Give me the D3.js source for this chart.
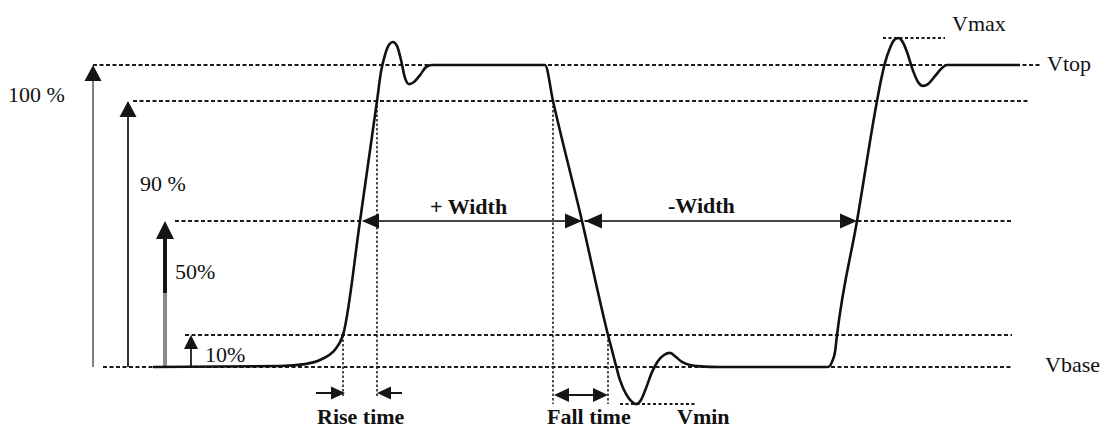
<!DOCTYPE html>
<html>
<head>
<meta charset="utf-8">
<script src="https://cdn.jsdelivr.net/npm/d3@7"></script>
<style>
  html, body { margin: 0; padding: 0; background: #fff; }
  svg { display: block; }
  text { font-family: "Liberation Serif", "Times New Roman", serif; fill: #111; }
</style>
</head>
<body>
<svg id="chart" width="1103" height="430"></svg>
<script>
// Pulse waveform samples: time (ns) and level (% of Vbase..Vtop swing)
const waveTime = [
  0.3, 13.0, 15.5, 17.2, 18.3, 18.9, 19.3, 21.0, 22.7, 23.1, 23.5, 23.9, 24.3, 24.7,
  25.1, 25.5, 25.9, 26.4, 27.0, 27.6, 28.2, 39.5, 40.3, 43.2, 45.8, 46.5, 47.0, 47.6,
  48.1, 48.6, 49.1, 49.6, 50.2, 50.8, 51.4, 52.0, 52.6, 53.2, 54.0, 55.0, 57.0, 67.8,
  68.2, 68.5, 68.7, 70.7, 72.7, 73.1, 73.5, 74.0, 74.4, 74.8, 75.2, 75.7, 76.2, 76.8,
  77.3, 77.8, 78.5, 79.1, 79.7, 87.0
];
const waveLevel = [
  0, 0.3, 0.9, 2.5, 4.7, 7.2, 10, 50, 90, 98.1, 102.8, 105.6, 106.4, 105.3,
  101.4, 96.4, 94.7, 95.3, 97.2, 99.4, 100, 100, 90, 50, 10, 1.6, -4.1, -8.4,
  -10.6, -11.6, -10.3, -6.6, -1.6, 1.9, 3.75, 4.4, 3.1, 1.6, 0.6, 0.2, 0, 0,
  1.6, 4.7, 10, 50, 90, 95.8, 100.6, 104.7, 106.9, 107.5, 106.7, 103.6, 99.2, 95.3,
  94.2, 94.7, 96.9, 98.9, 100, 100
];

// Reference levels drawn as dotted lines
const levelNames  = ["Vtop", "90%", "50%", "10%", "Vbase"];
const levelValues = [100, 90, 50, 10, 0];
const vmaxLevel = 107.5;
const vminLevel = -11.6;

// Percentage arrows on the left
const percentLabels = ["100 %", "90 %", "50%", "10%"];
const percentValues = [100, 90, 50, 10];

// Crossing times (ns)
const riseTimes  = [19.3, 22.7];   // 10 % and 90 % on the rising edge
const fallTimes  = [40.3, 45.8];   // 90 % and 10 % on the falling edge
const midTimes   = [21.0, 43.2, 70.7]; // 50 % crossings
const widthLabels = ["+ Width", "-Width"];
const timeLabels  = ["Rise time", "Fall time"];

// ---------- layout ----------
const svg = d3.select("#chart");
const x = d3.scaleLinear().domain([0, 88]).range([150, 1030]);
const y = d3.scaleLinear().domain([0, 10, 50, 90, 100]).range([367, 335, 221, 101, 65]);

const levelStart = [93, 133, 175, 185, 103];
const levelEnd   = [1040, 1028, 1012, 1012, 1012];
const arrowX     = [93, 128, 165, 191];
const ink = "#151515";

function head(g, tx, ty, dir, len, hw, color) {
  // dir: "up", "left", "right"
  let pts;
  if (dir === "up") pts = [[tx, ty], [tx - hw, ty + len], [tx + hw, ty + len]];
  else if (dir === "left") pts = [[tx, ty], [tx + len, ty - hw], [tx + len, ty + hw]];
  else pts = [[tx, ty], [tx - len, ty - hw], [tx - len, ty + hw]];
  g.append("polygon").attr("points", pts.map(p => p.join(",")).join(" "))
    .attr("fill", color || ink);
}

const g = svg.append("g");

// dotted reference levels
levelValues.forEach((v, i) => {
  g.append("line")
    .attr("x1", levelStart[i]).attr("x2", levelEnd[i])
    .attr("y1", y(v)).attr("y2", y(v))
    .attr("stroke", "#1a1a1a").attr("stroke-width", 2)
    .attr("stroke-dasharray", "4,2.5");
});
// Vmax / Vmin short lines
g.append("line").attr("x1", x(73.3)).attr("x2", x(79.5))
  .attr("y1", y(vmaxLevel)).attr("y2", y(vmaxLevel))
  .attr("stroke", "#1a1a1a").attr("stroke-width", 2).attr("stroke-dasharray", "3,2.5");
g.append("line").attr("x1", x(47.0)).attr("x2", x(54.7))
  .attr("y1", y(vminLevel)).attr("y2", y(vminLevel))
  .attr("stroke", "#1a1a1a").attr("stroke-width", 2).attr("stroke-dasharray", "3,2.5");

// vertical dotted markers for rise/fall time
const riseBottom = 398, fallBottom = 404;
[[riseTimes[0], 10, riseBottom], [riseTimes[1], 90, riseBottom],
 [fallTimes[0], 90, fallBottom], [fallTimes[1], 10, fallBottom]].forEach(([t, lv, yb]) => {
  g.append("line").attr("x1", x(t)).attr("x2", x(t))
    .attr("y1", y(lv)).attr("y2", yb)
    .attr("stroke", "#222").attr("stroke-width", 1.6).attr("stroke-dasharray", "2.5,2");
});

// left percentage arrows
percentValues.forEach((v, i) => {
  const ax = arrowX[i];
  const tipY = y(v);
  if (i === 2) {
    // thick 50 % arrow, lower part grey
    g.append("line").attr("x1", ax).attr("x2", ax).attr("y1", tipY + 14).attr("y2", 293)
      .attr("stroke", ink).attr("stroke-width", 4);
    g.append("line").attr("x1", ax).attr("x2", ax).attr("y1", 293).attr("y2", y(0))
      .attr("stroke", "#8a8a8a").attr("stroke-width", 4);
    head(g, ax, tipY, "up", 18, 9);
  } else {
    g.append("line").attr("x1", ax).attr("x2", ax).attr("y1", tipY + 10).attr("y2", y(0))
      .attr("stroke", i === 0 ? "#555" : "#333").attr("stroke-width", i === 0 ? 1.5 : 2);
    const sz = i === 3 ? [14, 7] : [16, 8.5];
    head(g, ax, tipY, "up", sz[0], sz[1]);
  }
});

// waveform
const line = d3.line()
  .x((d, i) => x(waveTime[i]))
  .y((d, i) => y(waveLevel[i]))
  .curve(d3.curveMonotoneX);
g.append("path").datum(waveTime).attr("d", line)
  .attr("fill", "none").attr("stroke", "#111").attr("stroke-width", 2.6)
  .attr("stroke-linejoin", "round");

// width arrows on the 50 % line
const yMid = y(50);
function dblArrow(x1, x2, yy) {
  g.append("line").attr("x1", x1 + 8).attr("x2", x2 - 8).attr("y1", yy).attr("y2", yy)
    .attr("stroke", "#444").attr("stroke-width", 2.2);
  head(g, x1, yy, "left", 17, 7.5);
  head(g, x2, yy, "right", 17, 7.5);
}
dblArrow(x(midTimes[0]) + 2, x(midTimes[1]), yMid);
dblArrow(x(midTimes[1]) + 3, x(midTimes[2]), yMid);

// rise time arrows (pointing inward)
const yRise = 393;
g.append("line").attr("x1", x(riseTimes[0]) - 27).attr("x2", x(riseTimes[0]) - 8)
  .attr("y1", yRise).attr("y2", yRise).attr("stroke", ink).attr("stroke-width", 2);
head(g, x(riseTimes[0]) + 2, yRise, "right", 14, 6.5);
g.append("line").attr("x1", x(riseTimes[1]) + 8).attr("x2", x(riseTimes[1]) + 25)
  .attr("y1", yRise).attr("y2", yRise).attr("stroke", ink).attr("stroke-width", 2);
head(g, x(riseTimes[1]), yRise, "left", 14, 6.5);

// fall time arrow (pointing outward)
const yFall = 395;
g.append("line").attr("x1", x(fallTimes[0]) + 8).attr("x2", x(fallTimes[1]) - 8)
  .attr("y1", yFall).attr("y2", yFall).attr("stroke", ink).attr("stroke-width", 2);
head(g, x(fallTimes[0]) + 1, yFall, "left", 15, 7);
head(g, x(fallTimes[1]), yFall, "right", 15, 7);

// ---------- text ----------
const T = (s, tx, ty, opts = {}) => g.append("text").attr("x", tx).attr("y", ty)
  .attr("font-size", opts.size || 22).attr("font-weight", opts.weight || "normal")
  .attr("text-anchor", opts.anchor || "start").text(s);

const pctPos = [[8, 102], [140, 191], [175, 279], [205, 362]];
percentLabels.forEach((s, i) => T(s, pctPos[i][0], pctPos[i][1]));

T(levelNames[0], 1047, y(levelValues[0]) + 6);
T(levelNames[4], 1045, y(levelValues[4]) + 5);
T("Vmax", 952, 31);
T("Vmin", 677, 424, { weight: "bold" });

T(widthLabels[0], 430, 214, { weight: "bold" });
T(widthLabels[1], 668, 213, { weight: "bold" });
T(timeLabels[0], 317, 424, { weight: "bold" });
T(timeLabels[1], 547, 424, { weight: "bold" });
</script>
</body>
</html>
